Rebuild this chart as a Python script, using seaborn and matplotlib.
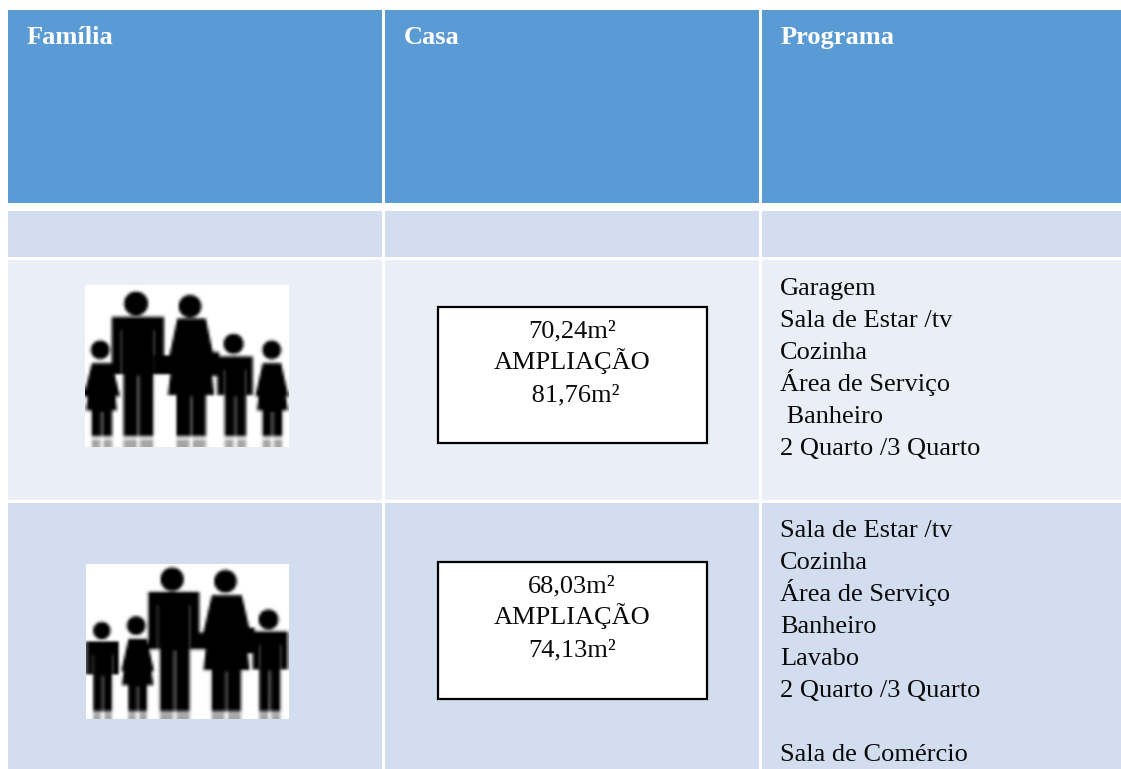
"""
Housing programme table: family, house area and room list per row.
Saves the figure to out.png.
"""
import numpy as np
import matplotlib
matplotlib.use('Agg')
import matplotlib.pyplot as plt
import seaborn as sns
from matplotlib.colors import ListedColormap
from matplotlib.patches import Rectangle

WIDTH, HEIGHT = 1121, 769
FONT_SIZE = 19

headers = ['Família', 'Casa', 'Programa']
area_row1 = ['70,24m²', 'AMPLIAÇÃO', ' 81,76m²']
area_row2 = ['68,03m²', 'AMPLIAÇÃO', '74,13m²']
rooms_row1 = ['Garagem', 'Sala de Estar /tv', 'Cozinha', 'Área de Serviço',
              ' Banheiro', '2 Quarto /3 Quarto']
rooms_row2 = ['Sala de Estar /tv', 'Cozinha', 'Área de Serviço', 'Banheiro',
              'Lavabo', '2 Quarto /3 Quarto', '', 'Sala de Comércio']

# cell colours: white gap, header, dark band, light band
cell_colors = ['#FFFFFF', '#5B9BD5', '#D2DEEF', '#E9EEF7']
row_levels = [1, 2, 3, 2]
row_spans = [(10, 203), (211, 257), (260, 500), (503, 769)]
col_spans = [(8, 382), (385, 759), (762, 1121)]


def table_matrix():
    m = np.zeros((HEIGHT, WIDTH), dtype=int)
    for level, (y0, y1) in zip(row_levels, row_spans):
        for x0, x1 in col_spans:
            m[y0:y1, x0:x1] = level
    return m


class Sketch:
    """Small raster canvas, shapes given in 3x pixels of the final picture."""

    def __init__(self, w, h):
        self.yy, self.xx = np.mgrid[0:h, 0:w]
        self.img = np.ones((h, w))

    def circle(self, cx, cy, r):
        self.img[(self.xx - cx) ** 2 + (self.yy - cy) ** 2 <= r ** 2] = 0

    def trap(self, y0, y1, a0, b0, a1, b1, val=0.0):
        t = (self.yy - y0) / (y1 - y0)
        left = a0 + (a1 - a0) * t
        right = b0 + (b1 - b0) * t
        self.img[(self.yy >= y0) & (self.yy <= y1) & (self.xx >= left) & (self.xx <= right)] = val

    def rect(self, x0, y0, x1, y1, val=0.0):
        self.trap(y0, y1, x0, x1, x0, x1, val)

    def legs(self, x0, x1, y0, y1, foot0, foot1):
        mid = (x0 + x1) / 2
        self.rect(x0, y0, x1, y1)
        self.rect(mid - 3, y0 + 10, mid + 3, y1, 0.45)
        self.rect(x0, foot0, mid - 5, foot1, 0.65)
        self.rect(mid + 5, foot0, x1, foot1, 0.65)

    def man(self, hx, hy, r, x0, x1, y0, y1, lx0, lx1, leg_end, foot0, foot1):
        self.circle(hx, hy, r)
        self.rect(x0, y0, x1, y1)
        arm = (x1 - x0) * 0.19
        self.rect(x0 + arm - 2, y0 + 40, x0 + arm + 2, y1, 0.35)
        self.rect(x1 - arm - 2, y0 + 40, x1 - arm + 2, y1, 0.35)
        self.legs(lx0, lx1, y1 - 5, leg_end, foot0, foot1)

    def woman(self, hx, hy, r, a0, b0, y0, a1, b1, y1, lx0, lx1, leg_end, foot0, foot1):
        self.circle(hx, hy, r)
        self.trap(y0, y1, a0, b0, a1, b1)
        # arms slanting away from the shoulders
        spread = 0.4 * (b0 - a0)
        self.trap(y0, y0 + 0.7 * (y1 - y0), a0, b0, a0 - spread, b0 + spread)
        self.legs(lx0, lx1, y1 - 5, leg_end, foot0, foot1)


def family_one():
    s = Sketch(612, 486)
    # zoom coordinates minus the image corner (255, 105)
    s.woman(45, 193, 28, 20, 80, 233, 3, 95, 373, 20, 80, 450, 460, 485)
    s.man(152, 55, 36, 80, 235, 95, 265, 115, 203, 450, 460, 485)
    s.rect(205, 210, 260, 265)
    s.woman(313, 63, 34, 275, 360, 100, 247, 385, 327, 273, 360, 450, 460, 485)
    s.man(443, 175, 30, 395, 500, 213, 327, 417, 480, 450, 460, 485)
    s.rect(375, 200, 400, 270)
    s.woman(557, 193, 28, 530, 585, 233, 513, 605, 373, 530, 588, 450, 460, 485)
    return s.img


def family_two():
    s = Sketch(609, 465)
    # zoom coordinates minus the image corner (258, 162)
    s.man(47, 198, 26, 2, 97, 231, 328, 22, 77, 438, 442, 465)
    s.woman(150, 183, 28, 127, 182, 223, 107, 202, 360, 127, 182, 438, 442, 465)
    s.man(258, 45, 35, 187, 339, 83, 253, 222, 310, 438, 442, 465)
    s.rect(315, 205, 360, 253)
    s.woman(418, 51, 34, 377, 467, 93, 352, 490, 315, 377, 464, 438, 442, 465)
    s.man(547, 165, 30, 500, 604, 201, 313, 520, 582, 438, 442, 465)
    s.rect(480, 190, 505, 265)
    return s.img


def blurred(img, step=7):
    h, w = img.shape
    h2, w2 = h // step, w // step
    return img[:h2 * step, :w2 * step].reshape(h2, step, w2, step).mean(axis=(1, 3))


def draw_lines(ax, x, y, lines, ha='left', step=32):
    for i, line in enumerate(lines):
        ax.text(x, y + i * step, line, ha=ha, va='baseline', fontsize=FONT_SIZE, color='#0A0A0A')


def main():
    sns.set_theme(style='white')
    plt.rcParams['font.family'] = ['Liberation Serif', 'DejaVu Serif']

    fig = plt.figure(figsize=(WIDTH / 100, HEIGHT / 100), dpi=100)
    ax = fig.add_axes([0, 0, 1, 1])

    sns.heatmap(table_matrix(), cmap=ListedColormap(cell_colors), vmin=0, vmax=3, cbar=False,
                xticklabels=False, yticklabels=False, ax=ax, rasterized=True)

    for name, x in zip(headers, [27, 404, 781]):
        ax.text(x, 44, name, ha='left', va='baseline', fontsize=FONT_SIZE,
                fontweight='bold', color='white')

    # pictograms
    ax.imshow(blurred(family_one()), cmap='gray', vmin=0, vmax=1, aspect='auto',
              extent=(85, 289, 447, 285), interpolation='bicubic', zorder=2)
    ax.imshow(blurred(family_two()), cmap='gray', vmin=0, vmax=1, aspect='auto',
              extent=(86, 289, 719, 564), interpolation='bicubic', zorder=2)
    ax.set_xlim(0, WIDTH)
    ax.set_ylim(HEIGHT, 0)

    # area boxes
    for top, bottom, lines in [(307, 443, area_row1), (562, 699, area_row2)]:
        ax.add_patch(Rectangle((437.5, top), 269, bottom - top, facecolor='white',
                               edgecolor='black', linewidth=1.6, zorder=3))
        for i, line in enumerate(lines):
            ax.text(572, top + 30 + i * 32, line, ha='center', va='baseline',
                    fontsize=FONT_SIZE, color='#0A0A0A', zorder=4)

    draw_lines(ax, 780, 295, rooms_row1)
    draw_lines(ax, 780, 537, rooms_row2)

    ax.axis('off')
    fig.savefig('out.png', dpi=100)
    plt.close(fig)


if __name__ == '__main__':
    main()
